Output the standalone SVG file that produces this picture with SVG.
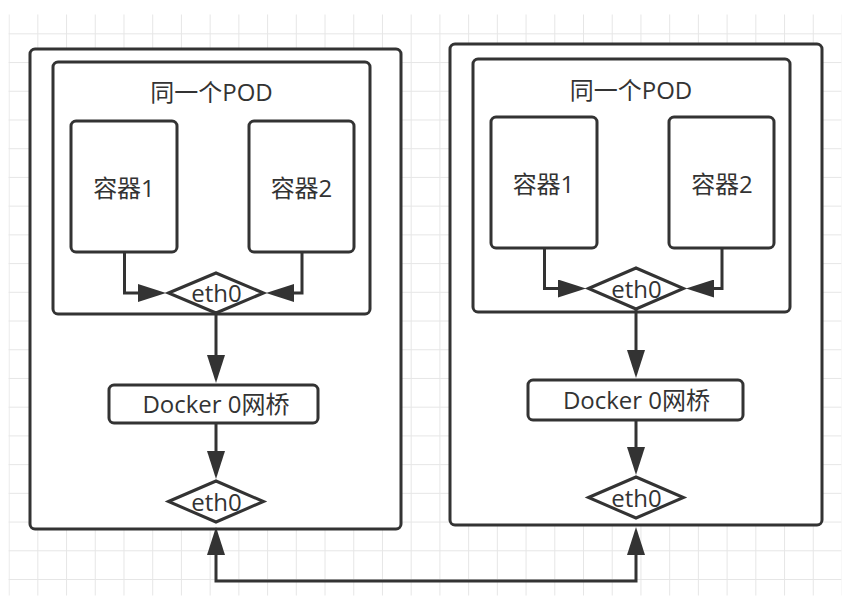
<svg xmlns="http://www.w3.org/2000/svg" width="853" height="609" viewBox="0 0 853 609">
  <style>
    .box { fill: #ffffff; stroke: #333333; stroke-width: 3; }
    .dia { fill: #ffffff; stroke: #333333; stroke-width: 3; stroke-linejoin: miter; }
    .edge { fill: none; stroke: #333333; stroke-width: 3; }
    .lbl { font-family: "Open Sans", "Noto Sans CJK SC", sans-serif; font-size: 24px; fill: #333333; text-anchor: middle; }
  </style>
  <defs>
    <pattern id="grid" patternUnits="userSpaceOnUse" x="8.6" y="4.6" width="28.72" height="28.72">
      <path d="M0.5 0 V28.72 M0 0.5 H28.72" fill="none" stroke="#e6e6e6" stroke-width="1"/>
    </pattern>
    <marker id="arr" markerUnits="userSpaceOnUse" viewBox="0 0 28 18" refX="14" refY="9" markerWidth="28" markerHeight="18" orient="auto-start-reverse">
      <path d="M0 0 L28 9 L0 18 Z" fill="#333333"/>
    </marker>
  </defs>

  <rect x="0" y="0" width="853" height="609" fill="#ffffff"/>
  <rect x="8.5" y="14.5" width="833" height="581" fill="url(#grid)"/>

  <!-- Left host -->
  <g id="host-left">
    <rect class="box" x="30" y="49" width="371" height="480" rx="5"/>
  </g>
  <g id="pod-left">
    <rect class="box" x="53" y="62" width="317" height="252" rx="5"/>
    <text class="lbl" x="211.5" y="101">同一个POD</text>
  </g>
  <g id="container1-left">
    <rect class="box" x="71" y="121" width="106" height="131" rx="5"/>
    <text class="lbl" x="124" y="197">容器1</text>
  </g>
  <g id="container2-left">
    <rect class="box" x="249" y="121" width="105" height="131" rx="5"/>
    <text class="lbl" x="301.5" y="197">容器2</text>
  </g>
  <g id="pod-eth0-left">
    <polygon class="dia" points="168.5,293 216,273 263.5,293 216,313"/>
    <text class="lbl" x="216.5" y="302">eth0</text>
  </g>
  <g id="docker-left">
    <rect class="box" x="109" y="385" width="209" height="38" rx="5"/>
    <text class="lbl" x="216" y="413">Docker 0网桥</text>
  </g>
  <g id="host-eth0-left">
    <polygon class="dia" points="168.5,501.5 216,481 263.5,501.5 216,522"/>
    <text class="lbl" x="216.5" y="510.5">eth0</text>
  </g>

  <!-- Right host -->
  <g id="host-right">
    <rect class="box" x="450" y="44" width="372" height="481" rx="5"/>
  </g>
  <g id="pod-right">
    <rect class="box" x="473" y="59" width="317" height="253" rx="5"/>
    <text class="lbl" x="631" y="99">同一个POD</text>
  </g>
  <g id="container1-right">
    <rect class="box" x="491" y="117" width="106" height="131" rx="5"/>
    <text class="lbl" x="543.5" y="193">容器1</text>
  </g>
  <g id="container2-right">
    <rect class="box" x="669" y="117" width="105" height="131" rx="5"/>
    <text class="lbl" x="722" y="193">容器2</text>
  </g>
  <g id="pod-eth0-right">
    <polygon class="dia" points="588.5,288.5 636,268 683.5,288.5 636,309"/>
    <text class="lbl" x="636.5" y="297.5">eth0</text>
  </g>
  <g id="docker-right">
    <rect class="box" x="528" y="380" width="215" height="40" rx="5"/>
    <text class="lbl" x="636.5" y="409">Docker 0网桥</text>
  </g>
  <g id="host-eth0-right">
    <polygon class="dia" points="588.5,497.5 636,477 683.5,497.5 636,518"/>
    <text class="lbl" x="636.5" y="506.5">eth0</text>
  </g>

  <!-- Connectors -->
  <g id="connectors">
    <path class="edge" d="M124.5 252 V293 H152" marker-end="url(#arr)"/>
    <path class="edge" d="M302 252 V293 H280" marker-end="url(#arr)"/>
    <path class="edge" d="M216 313 V369" marker-end="url(#arr)"/>
    <path class="edge" d="M216 423 V465" marker-end="url(#arr)"/>
    <path class="edge" d="M544.5 248 V288.5 H572" marker-end="url(#arr)"/>
    <path class="edge" d="M722 248 V288.5 H700" marker-end="url(#arr)"/>
    <path class="edge" d="M636 309 V364" marker-end="url(#arr)"/>
    <path class="edge" d="M636 420 V461" marker-end="url(#arr)"/>
    <path class="edge" d="M216 541 V581 H636 V541" marker-start="url(#arr)" marker-end="url(#arr)"/>
  </g>
</svg>
